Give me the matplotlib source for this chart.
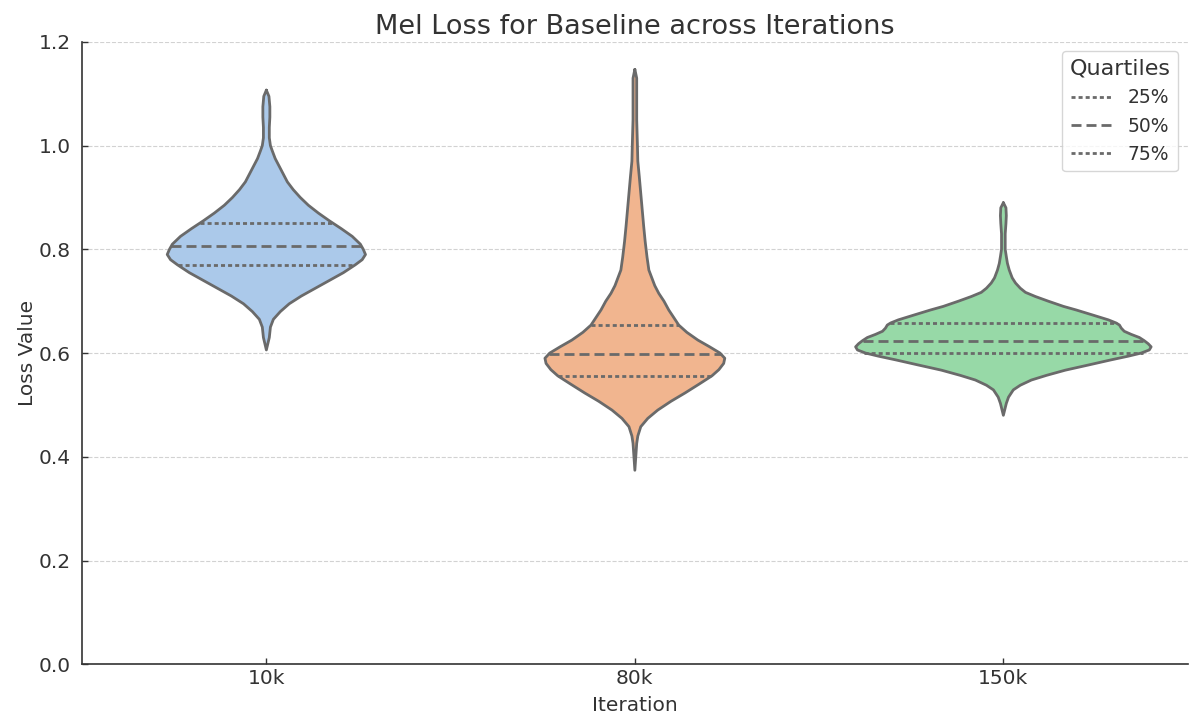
import numpy as np
import matplotlib.pyplot as plt
from matplotlib.lines import Line2D

# Data
iterations = ["10k", "80k", "150k"]
colors = ["#abc9ea", "#f1b58f", "#97d9a7"]

# violin outlines: loss level -> half width (in category units)
y_10k = [1.107, 1.095, 1.075, 1.055, 1.035, 1.015, 1.000, 0.990, 0.975, 0.960,
         0.945, 0.930, 0.915, 0.900, 0.885, 0.870, 0.855, 0.840, 0.825, 0.810,
         0.800, 0.790, 0.780, 0.770, 0.755, 0.740, 0.725, 0.710, 0.695, 0.680,
         0.665, 0.650, 0.630, 0.606]
w_10k = [0.0, 0.007, 0.0095, 0.0095, 0.008, 0.008, 0.011, 0.016, 0.024, 0.035,
         0.046, 0.057, 0.073, 0.092, 0.114, 0.141, 0.171, 0.203, 0.233, 0.255,
         0.263, 0.269, 0.260, 0.241, 0.209, 0.171, 0.133, 0.095, 0.062, 0.038,
         0.019, 0.011, 0.008, 0.0]

y_80k = [1.147, 1.13, 1.10, 1.05, 1.00, 0.970, 0.940, 0.908, 0.876, 0.844,
         0.815, 0.785, 0.760, 0.745, 0.730, 0.715, 0.700, 0.683, 0.668, 0.654,
         0.640, 0.625, 0.612, 0.600, 0.590, 0.580, 0.568, 0.556, 0.540, 0.523,
         0.507, 0.490, 0.474, 0.458, 0.440, 0.426, 0.374]
w_80k = [0.0, 0.005, 0.005, 0.005, 0.007, 0.008, 0.012, 0.016, 0.020, 0.024,
         0.028, 0.033, 0.038, 0.046, 0.054, 0.065, 0.079, 0.092, 0.106, 0.119,
         0.141, 0.171, 0.203, 0.231, 0.244, 0.241, 0.228, 0.209, 0.174, 0.136,
         0.098, 0.062, 0.035, 0.016, 0.008, 0.005, 0.0]

y_150k = [0.890, 0.880, 0.865, 0.850, 0.830, 0.800, 0.786, 0.773, 0.760, 0.745,
          0.735, 0.725, 0.717, 0.709, 0.700, 0.690, 0.683, 0.673, 0.664, 0.658,
          0.654, 0.648, 0.642, 0.636, 0.630, 0.624, 0.618, 0.612, 0.606, 0.600,
          0.594, 0.587, 0.577, 0.567, 0.557, 0.548, 0.538, 0.529, 0.515, 0.503,
          0.480]
w_150k = [0.0, 0.007, 0.008, 0.007, 0.005, 0.005, 0.008, 0.011, 0.016, 0.024,
          0.033, 0.046, 0.060, 0.087, 0.122, 0.163, 0.198, 0.244, 0.285, 0.306,
          0.315, 0.320, 0.328, 0.347, 0.369, 0.382, 0.393, 0.401, 0.396, 0.374,
          0.339, 0.293, 0.231, 0.168, 0.117, 0.076, 0.046, 0.027, 0.014, 0.008,
          0.0]

q25 = [0.770, 0.556, 0.601]
q50 = [0.806, 0.598, 0.624]
q75 = [0.851, 0.654, 0.657]

profiles = [(y_10k, w_10k), (y_80k, w_80k), (y_150k, w_150k)]

plt.rcParams['font.family'] = 'DejaVu Sans'
fig, ax = plt.subplots(figsize=(11.9, 7.22), dpi=100)
fig.subplots_adjust(left=0.069, right=0.998, bottom=0.080, top=0.942)

edge = "#6a6a6a"
dot = (1.45, 1.1)
dash = (3.6, 1.8)

for i, (yy, ww) in enumerate(profiles):
    yy = np.array(yy)
    ww = np.array(ww)
    ax.fill_betweenx(yy, i - ww, i + ww, facecolor=colors[i], edgecolor="none", zorder=2)
    xs = np.concatenate([i - ww, (i + ww)[::-1]])
    ys = np.concatenate([yy, yy[::-1]])
    ax.plot(xs, ys, color=edge, lw=2.0, zorder=3, solid_joinstyle="round",
            solid_capstyle="round")
    order = np.argsort(yy)
    for q, ds in [(q25[i], dot), (q50[i], dash), (q75[i], dot)]:
        hw = np.interp(q, yy[order], ww[order])
        ax.plot([i - hw, i + hw], [q, q], color=edge, lw=2.0, dashes=ds, zorder=4)

ax.set_xlim(-0.5, 2.5)
ax.set_ylim(0, 1.2)
ax.set_xticks(range(len(iterations)))
ax.set_xticklabels(iterations)
ax.set_yticks(np.arange(0, 1.21, 0.2))
ax.tick_params(direction="in", length=4, labelsize=14.5, colors="#333333", width=1)
ax.tick_params(axis="y", pad=8)
ax.grid(axis="y", linestyle="--", color="#d2d2d2", lw=0.8, zorder=0)
ax.set_axisbelow(True)
for s in ["top", "right"]:
    ax.spines[s].set_visible(False)
for s in ["left", "bottom"]:
    ax.spines[s].set_color("#333333")
    ax.spines[s].set_linewidth(1.2)

ax.set_title("Mel Loss for Baseline across Iterations", fontsize=19.5, color="#333333")
ax.set_xlabel("Iteration", fontsize=14.5, color="#333333", labelpad=6)
ax.set_ylabel("Loss Value", fontsize=14.5, color="#333333", labelpad=1.5)

handles = [Line2D([], [], color=edge, lw=2.0, dashes=dot),
           Line2D([], [], color=edge, lw=2.0, dashes=dash),
           Line2D([], [], color=edge, lw=2.0, dashes=dot)]
leg = ax.legend(handles, ["25%", "50%", "75%"], title="Quartiles", loc="upper right",
                fontsize=13.5, title_fontsize=16, frameon=True, handlelength=2.2)
for t in leg.get_texts():
    t.set_color("#333333")
leg.get_title().set_color("#333333")

fig.savefig("out.png", dpi=100)
